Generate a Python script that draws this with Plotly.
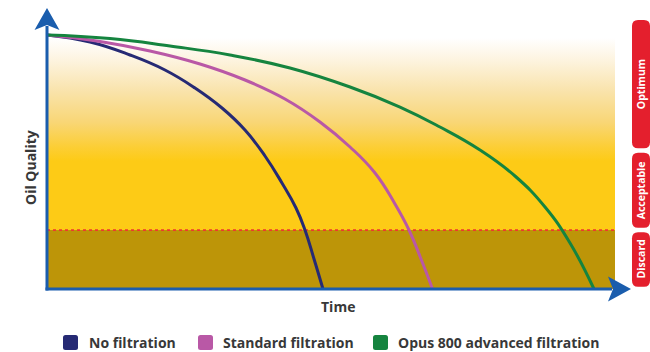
import plotly.graph_objects as go

# ---------------- data (time: 0-100, quality: 0-100) ----------------
series_names = ["No filtration", "Standard filtration", "Opus 800 advanced filtration"]
series_colors = ["#262A74", "#B958A6", "#15843F"]

time_none = [0, 7.57, 14.61, 20.77, 26.06, 30.81, 34.86, 38.38, 41.37, 43.84, 45.42, 47.01, 48.59]
quality_none = [100, 97.24, 92.13, 86.22, 79.13, 71.26, 62.60, 52.36, 41.73, 31.89, 23.23, 11.81, 0]

time_standard = [0, 9.33, 18.13, 26.94, 34.86, 41.90, 48.06, 53.35, 57.75, 61.27, 63.73, 65.85, 67.87]
quality_standard = [100, 97.44, 93.70, 88.58, 82.28, 74.80, 65.75, 55.91, 45.67, 33.46, 23.23, 11.81, 0]

time_opus = [0, 11.09, 21.65, 32.22, 42.78, 53.35, 62.15, 69.19, 76.23, 82.39, 87.68, 92.08, 96.30]
quality_opus = [100, 98.62, 95.67, 92.13, 87.01, 79.53, 71.65, 63.78, 54.72, 44.49, 32.28, 18.11, 0]

zone_labels = ["Optimum", "Acceptable", "Discard"]
zone_low = [54.5, 23.2, 0.0]
zone_high = [106.8, 54.5, 23.2]
discard_limit = 23.2
time_end = 100
gradient_top = 98.8

x_title = "Time"
y_title = "Oil Quality"

# ---------------- geometry helpers ----------------
PX_X = 5.68   # pixels per time unit
PX_Y = 2.54   # pixels per quality unit
X0, Y0 = 47, 289  # pixel position of origin


def X(px):
    return (px - X0) / PX_X


def Y(py):
    return (Y0 - py) / PX_Y


AXIS_BLUE = "#1A5DAD"
TEXT_GREY = "#383838"
FONT = "Open Sans"

fig = go.Figure()

# gradient zone (acceptable + optimum)
fig.add_trace(go.Scatter(
    x=[0, time_end, time_end, 0, 0],
    y=[discard_limit, discard_limit, gradient_top, gradient_top, discard_limit],
    mode="lines", line=dict(width=0), fill="toself",
    fillgradient=dict(
        type="vertical",
        start=discard_limit, stop=gradient_top,
        colorscale=[
            [0.0, "#FDCB16"],
            [0.36, "#FDCB16"],
            [0.43, "#FCCE34"],
            [0.56, "#F9D675"],
            [0.72, "#F9E3AA"],
            [0.88, "#FDF3DE"],
            [1.0, "#FFFFFF"],
        ],
    ),
    hoverinfo="skip", showlegend=False,
))

# discard zone
fig.add_trace(go.Scatter(
    x=[0, time_end, time_end, 0, 0],
    y=[0, 0, discard_limit, discard_limit, 0],
    mode="lines", line=dict(width=0), fill="toself", fillcolor="#BD9508",
    hoverinfo="skip", showlegend=False,
))

# discard threshold
fig.add_trace(go.Scatter(
    x=[0, time_end], y=[discard_limit, discard_limit],
    mode="lines", line=dict(color="#EC3A2E", width=1.8, dash="dot"),
    hoverinfo="skip", showlegend=False,
))

# curves
for tx, qy, c, n in zip([time_none, time_standard, time_opus],
                        [quality_none, quality_standard, quality_opus],
                        series_colors, series_names):
    fig.add_trace(go.Scatter(
        x=tx, y=qy, mode="lines", name=n,
        line=dict(color=c, width=3, shape="spline", smoothing=1.3),
        hoverinfo="skip", showlegend=False,
    ))

shapes = []
# axes lines
shapes.append(dict(type="line", xref="x", yref="y", x0=X(47), x1=X(47), y0=Y(290.5), y1=Y(26),
                   line=dict(color=AXIS_BLUE, width=3), layer="above"))
shapes.append(dict(type="line", xref="x", yref="y", x0=X(45.5), x1=X(612), y0=Y(289), y1=Y(289),
                   line=dict(color=AXIS_BLUE, width=3), layer="above"))


def path_from(points):
    s = "M {} {}".format(X(points[0][0]), Y(points[0][1]))
    for p in points[1:]:
        s += " L {} {}".format(X(p[0]), Y(p[1]))
    return s + " Z"


# arrow heads
shapes.append(dict(type="path", xref="x", yref="y",
                   path=path_from([(47, 8), (59.5, 30), (47, 25), (34.5, 30)]),
                   fillcolor=AXIS_BLUE, line=dict(width=0), layer="above"))
shapes.append(dict(type="path", xref="x", yref="y",
                   path=path_from([(631, 289), (608, 301.5), (613, 289), (608, 276.5)]),
                   fillcolor=AXIS_BLUE, line=dict(width=0), layer="above"))


def rounded_px(px0, px1, py_top, py_bot, r):
    s = "M {} {}".format(X(px0 + r), Y(py_top))
    s += " L {} {}".format(X(px1 - r), Y(py_top))
    s += " Q {} {} {} {}".format(X(px1), Y(py_top), X(px1), Y(py_top + r))
    s += " L {} {}".format(X(px1), Y(py_bot - r))
    s += " Q {} {} {} {}".format(X(px1), Y(py_bot), X(px1 - r), Y(py_bot))
    s += " L {} {}".format(X(px0 + r), Y(py_bot))
    s += " Q {} {} {} {}".format(X(px0), Y(py_bot), X(px0), Y(py_bot - r))
    s += " L {} {}".format(X(px0), Y(py_top + r))
    s += " Q {} {} {} {}".format(X(px0), Y(py_top), X(px0 + r), Y(py_top))
    return s + " Z"


annotations = []
# zone tags on the right
for lab, lo, hi in zip(zone_labels, zone_low, zone_high):
    py_top = Y0 - (hi - 0.9) * PX_Y
    py_bot = Y0 - (lo + 0.9) * PX_Y
    shapes.append(dict(type="path", xref="x", yref="y",
                       path=rounded_px(632, 650, py_top, py_bot, 6),
                       fillcolor="#E41F2D", line=dict(width=0), layer="above"))
    annotations.append(dict(x=X(641), y=(lo + hi) / 2, xref="x", yref="y",
                            text=lab, textangle=-90, showarrow=False,
                            font=dict(family=FONT, size=10.5, color="white", weight="bold")))

# axis titles
annotations.append(dict(x=X(338), y=Y(306), xref="x", yref="y", text=x_title, showarrow=False,
                        font=dict(family=FONT, size=14, color=TEXT_GREY, weight="bold")))
annotations.append(dict(x=X(30), y=Y(168), xref="x", yref="y", text=y_title, showarrow=False,
                        textangle=-90,
                        font=dict(family=FONT, size=14, color=TEXT_GREY, weight="bold")))

# legend (drawn as rounded swatches + labels)
legend_swatch_px = [63, 198, 373]
legend_text_px = [87, 221, 396]
for n, c, sx, tx in zip(series_names, series_colors, legend_swatch_px, legend_text_px):
    shapes.append(dict(type="path", xref="x", yref="y",
                       path=rounded_px(sx, sx + 15, 335, 350, 2.5),
                       fillcolor=c, line=dict(width=0), layer="above"))
    annotations.append(dict(x=X(tx), y=Y(342.5), xref="x", yref="y", text=n, showarrow=False,
                            xanchor="left", yanchor="middle",
                            font=dict(family=FONT, size=14, color=TEXT_GREY, weight="bold")))

fig.update_layout(
    width=650, height=352,
    margin=dict(l=0, r=0, t=0, b=0),
    paper_bgcolor="white", plot_bgcolor="white",
    xaxis=dict(visible=False, range=[X(0), X(650)], fixedrange=True),
    yaxis=dict(visible=False, range=[Y(352), Y(0)], fixedrange=True),
    shapes=shapes, annotations=annotations,
    showlegend=False,
)

fig.write_html("out.html",
               config={"displayModeBar": False, "staticPlot": True},
               post_script="document.body.style.margin='0px';document.body.style.overflow='hidden';")
